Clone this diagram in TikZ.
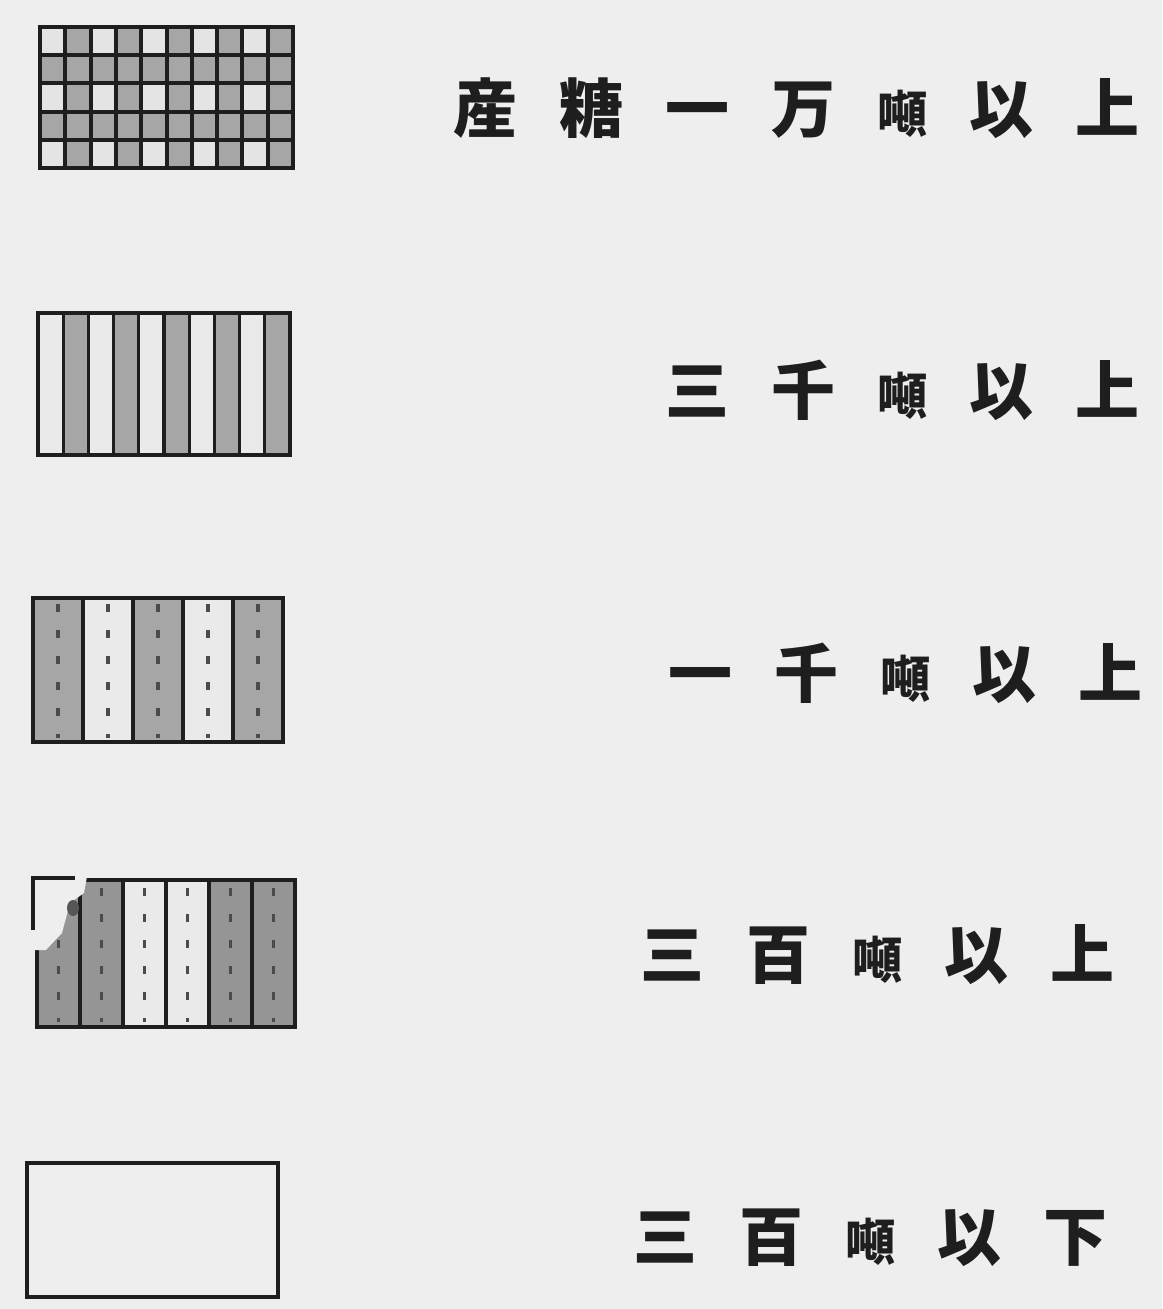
\documentclass[tikz,border=0pt]{standalone}
\usepackage{fontspec}
\newfontfamily\cjk{Noto Sans CJK JP}
\definecolor{bg}{HTML}{EEEEEE}
\definecolor{ink}{HTML}{1E1E1E}
\definecolor{midgray}{HTML}{A6A6A6}
\definecolor{darkgray}{HTML}{959595}
\definecolor{lightcell}{HTML}{E4E4E4}
\definecolor{paper}{HTML}{EAEAEA}
\newcommand\gapx{\hspace{21pt}}
\newcommand\tonx{{\fontsize{25}{25}\selectfont 噸}}
\tikzset{
  frame/.style={draw=ink, line width=2pt, inner sep=0pt, fill=none},
  label/.style={text=ink, font=\cjk\bfseries\fontsize{32}{32}\selectfont, inner sep=0pt},
  divider/.style={draw=ink, line width=1.6pt},
  dots/.style={draw=ink!80, line width=1.6pt, dash pattern=on 4pt off 9pt},
}
\begin{document}
\begin{tikzpicture}[x=0.5pt,y=-0.5pt]
\fill[bg] (0,0) rectangle (1162,1309);
\useasboundingbox (0,0) rectangle (1162,1309);

% ---- swatch 1: checker grid
\fill[midgray] (40,27) rectangle (293,168);
\foreach \c in {0,2,...,8}
  \foreach \r in {0,2,4}
    \fill[lightcell] ({40+\c*25.3},{27+\r*28.2}) rectangle ++(25.3,28.2);
\foreach \c in {1,...,9}
  \draw[divider, line width=2pt] ({40+\c*25.3},27) -- ++(0,141);
\foreach \r in {1,...,4}
  \draw[divider, line width=2pt] (40,{27+\r*28.2}) -- ++(253,0);
\node[frame, minimum width=126.5pt, minimum height=70.5pt] (s1) at (166.5,97.5) {};

% ---- swatch 2: 10 stripes
\fill[paper] (38,313) rectangle (290,455);
\foreach \c in {1,3,...,9}
  \fill[midgray] ({38+\c*25.2},313) rectangle ++(25.2,142);
\foreach \c in {1,...,9}
  \draw[divider] ({38+\c*25.2},313) -- ++(0,142);
\node[frame, minimum width=126pt, minimum height=71pt] (s2) at (164,384) {};

% ---- swatch 3: 5 stripes with dots
\fill[paper] (33,598) rectangle (283,742);
\foreach \c in {0,2,4}
  \fill[midgray] ({33+\c*50},598) rectangle ++(50,144);
\foreach \c in {1,...,4}
  \draw[divider] ({33+\c*50},598) -- ++(0,144);
\foreach \c in {0,...,4}
  \draw[dots] ({58+\c*50},604) -- ++(0,134);
\node[frame, minimum width=125pt, minimum height=72pt] (s3) at (158,670) {};

% ---- swatch 4: 6 stripes with dots
\fill[paper] (37,880) rectangle (295,1027);
\foreach \c in {0,1,4,5}
  \fill[darkgray] ({37+\c*43},880) rectangle ++(43,147);
\foreach \c in {1,...,5}
  \draw[divider] ({37+\c*43},880) -- ++(0,147);
\foreach \c in {0,...,5}
  \draw[dots] ({58.5+\c*43},888) -- ++(0,134);
\node[frame, minimum width=129pt, minimum height=73.5pt] (s4) at (166,953.5) {};
% torn corner
\fill[bg] (28,871) -- (88,871) -- (84,893) -- (70,903) -- (62,933) -- (46,950) -- (28,950) -- cycle;
\draw[ink, line width=2pt] (33,930) -- (33,878) -- (75,878);
\fill[ink!75] (73,908) ellipse [x radius=6, y radius=8];

% ---- swatch 5: empty
\node[frame, minimum width=125.5pt, minimum height=67pt] (s5) at (152.5,1230) {};

% ---- labels
\node[label, anchor=east] (t1) at (1140,108) {産\gapx 糖\gapx 一\gapx 万\gapx \tonx\gapx 以\gapx 上};
\node[label, anchor=east] (t2) at (1140,390) {三\gapx 千\gapx \tonx\gapx 以\gapx 上};
\node[label, anchor=east] (t3) at (1143,673) {一\gapx 千\gapx \tonx\gapx 以\gapx 上};
\node[label, anchor=east] (t4) at (1115,955) {三\gapx 百\gapx \tonx\gapx 以\gapx 上};
\node[label, anchor=east] (t5) at (1108,1238) {三\gapx 百\gapx \tonx\gapx 以\gapx 下};
\end{tikzpicture}
\end{document}
